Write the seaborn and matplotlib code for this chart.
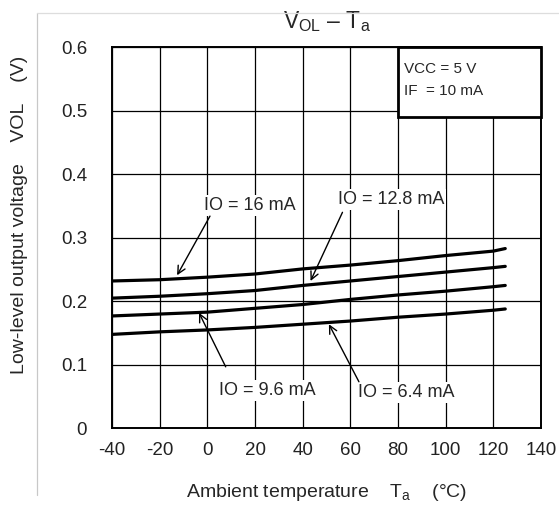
import numpy as np
import pandas as pd
import matplotlib
matplotlib.use("Agg")
import matplotlib.pyplot as plt
import seaborn as sns
from matplotlib.patches import Rectangle
from matplotlib.lines import Line2D

# ---- data ----
temps = [-40, -20, 0, 20, 40, 60, 80, 100, 120, 125]
vol_16 = [0.232, 0.234, 0.238, 0.243, 0.251, 0.257, 0.264, 0.272, 0.279, 0.283]
vol_12_8 = [0.205, 0.208, 0.212, 0.217, 0.225, 0.232, 0.239, 0.246, 0.253, 0.255]
vol_9_6 = [0.177, 0.180, 0.183, 0.189, 0.195, 0.203, 0.210, 0.216, 0.223, 0.225]
vol_6_4 = [0.148, 0.152, 0.155, 0.159, 0.164, 0.169, 0.175, 0.180, 0.186, 0.188]
series_names = ["16", "12.8", "9.6", "6.4"]
x_ticks = [-40, -20, 0, 20, 40, 60, 80, 100, 120, 140]
y_ticks = [0, 0.1, 0.2, 0.3, 0.4, 0.5, 0.6]
y_tick_labels = ["0", "0.1", "0.2", "0.3", "0.4", "0.5", "0.6"]

df = pd.DataFrame({
    "Ta": temps * 4,
    "VOL": vol_16 + vol_12_8 + vol_9_6 + vol_6_4,
    "IO": sum([[n] * len(temps) for n in series_names], []),
})

sns.set_theme(style="white")
plt.rcParams["font.family"] = ["Liberation Sans", "DejaVu Sans"]
plt.rcParams["mathtext.fontset"] = "custom"
plt.rcParams["mathtext.rm"] = "Liberation Sans"
plt.rcParams["mathtext.it"] = "Liberation Sans"

fig = plt.figure(figsize=(5.59, 5.12), dpi=100)
ax = fig.add_axes([0.2004, 0.1631, 0.7674, 0.7451])

sns.lineplot(data=df, x="Ta", y="VOL", hue="IO", palette=["black"] * 4,
             linewidth=2.3, legend=False, ax=ax, zorder=3)

ax.set_xlim(-40, 140)
ax.set_ylim(0, 0.6)
ax.set_xticks(x_ticks)
ax.set_xticklabels([str(t) for t in x_ticks], fontsize=13.5, color="#222222")
ax.set_yticks(y_ticks)
ax.set_yticklabels(y_tick_labels, fontsize=13.5, color="#222222")
ax.tick_params(axis="x", length=0, pad=10)
ax.tick_params(axis="y", length=0, pad=18)
ax.grid(True, color="black", linewidth=0.9)
for s in ax.spines.values():
    s.set_color("black")
    s.set_linewidth(1.4)
ax.set_xlabel("")
ax.set_ylabel("")

# condition box
ax.add_patch(Rectangle((80, 0.49), 60, 0.11, facecolor="white", edgecolor="black",
                       linewidth=2.0, zorder=4, clip_on=False))
ax.text(82.5, 0.566, "VCC = 5 V", fontsize=11, va="center", ha="left", zorder=5)
ax.text(82.5, 0.531, "IF  = 10 mA", fontsize=11, va="center", ha="left", zorder=5)

# annotations
ann = [
    ("IO = 16 mA", (17.9, 0.351), (1.1, 0.334), (-12.7, 0.241)),
    ("IO = 12.8 mA", (77.0, 0.360), (56.7, 0.340), (43.3, 0.232)),
    ("IO = 9.6 mA", (25.2, 0.060), (7.7, 0.097), (-3.5, 0.182)),
    ("IO = 6.4 mA", (83.3, 0.057), (63.6, 0.0735), (51.0, 0.164)),
]
for label, tpos, tail, tip in ann:
    ax.text(tpos[0], tpos[1], label, fontsize=13, ha="center", va="center", zorder=5,
            bbox=dict(facecolor="white", edgecolor="none", pad=1.5))
    ax.annotate("", xy=tip, xytext=tail,
                arrowprops=dict(arrowstyle="->", color="black", lw=1.0,
                                shrinkA=0, shrinkB=0, mutation_scale=14), zorder=5)

# title and axis labels
ax.text(0.5, 1.05, r"$\mathregular{V_{OL}}$ – $\mathregular{T_a}$", transform=ax.transAxes,
        ha="center", va="baseline", fontsize=16.5)
fig.text(326.5 / 559, 1 - 497 / 512, "Ambient temperature    T$\\mathregular{_a}$    (°C)",
         ha="center", va="baseline", fontsize=14)
fig.text(20 / 559, 1 - 215 / 512, "Low-level output voltage    VOL    (V)",
         ha="center", va="center", rotation=90, fontsize=14)

# page frame lines
fig.add_artist(Line2D([37 / 559, 37 / 559], [1 - 13 / 512, 1 - 495 / 512],
                      color="#c8c8c8", linewidth=0.9))
fig.add_artist(Line2D([37 / 559, 1.0], [1 - 13 / 512, 1 - 13 / 512],
                      color="#dddddd", linewidth=0.9))

fig.savefig("out.png", dpi=100, facecolor="white")
